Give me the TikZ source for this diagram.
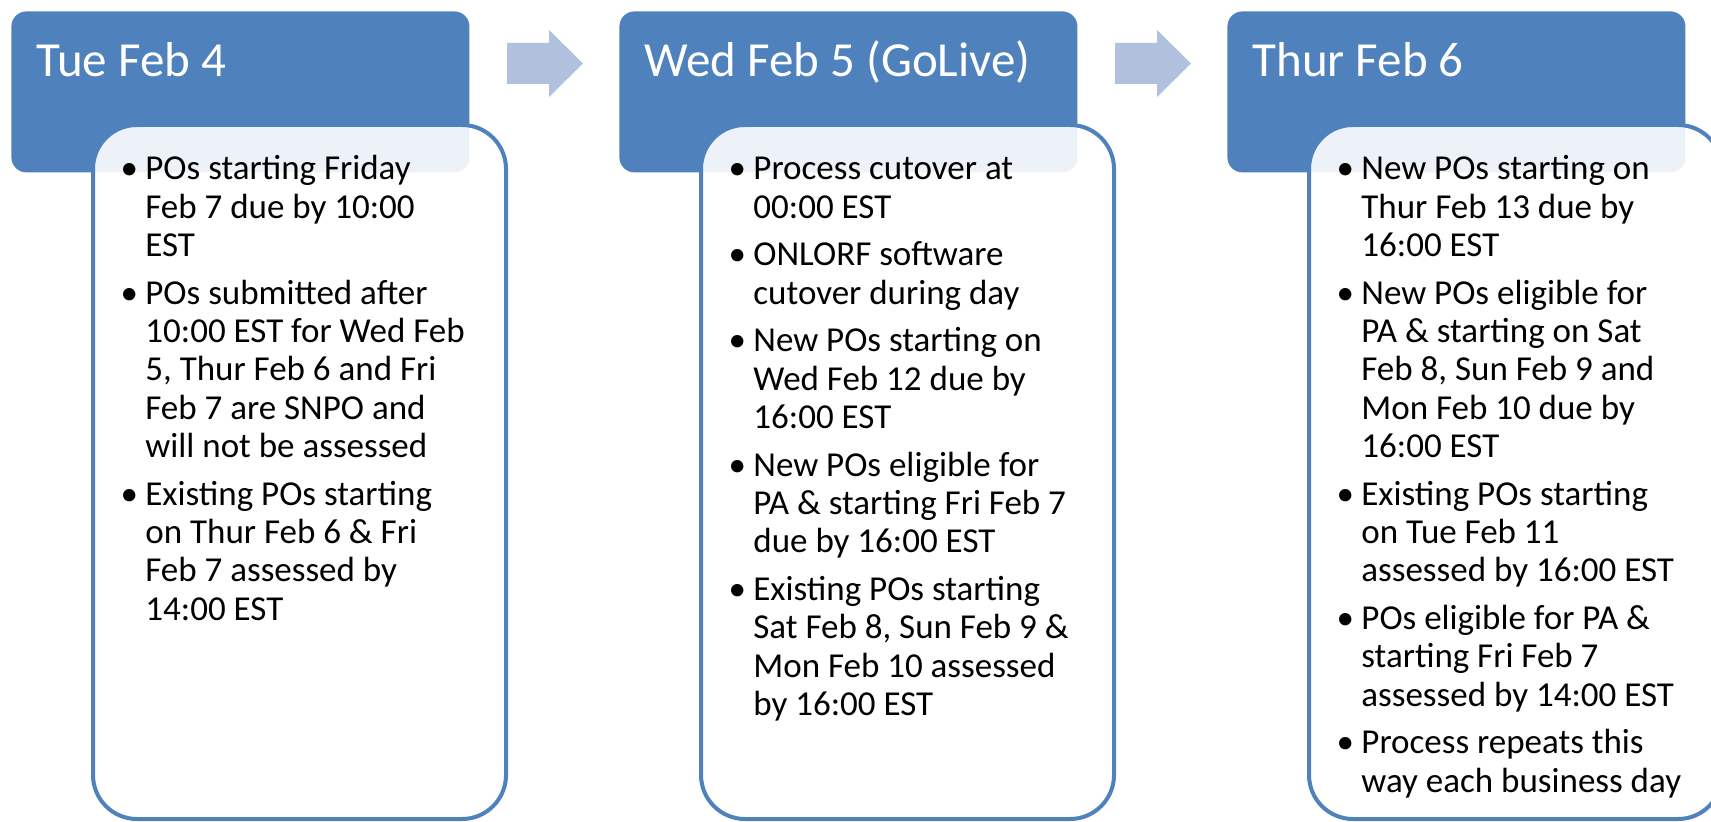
\documentclass[tikz,border=0pt]{standalone}
\usepackage{fontspec}
\setmainfont{Carlito}
\definecolor{hdr}{HTML}{4F81BD}
\definecolor{arr}{HTML}{B0C1DD}
\newcommand{\bul}{\makebox[8pt][l]{\makebox[0pt]{\textbullet}}}
\begin{document}
\begin{tikzpicture}[x=0.5pt,y=-0.5pt,
  hdrbox/.style={fill=hdr, rounded corners=7.5pt, minimum width=229pt, minimum height=80.5pt, anchor=north west, inner sep=0},
  cbox/.style={draw=hdr, line width=2pt, fill=white, fill opacity=0.9, rounded corners=22pt, minimum width=206.5pt, minimum height=347pt, anchor=north west, inner sep=0},
  ttl/.style={anchor=base west, inner sep=0, text=white, font=\fontsize{24.5pt}{29pt}\selectfont},
  body/.style={anchor=base west, inner sep=0, font=\fontsize{17.5pt}{19.15pt}\selectfont},
  blockarrow/.style={fill=arr}]
\useasboundingbox (0,0) rectangle (1711,822);
\clip (0,0) rectangle (1711,822);

% headers
\node[hdrbox] (h1) at (11,11) {};
\node[hdrbox] (h2) at (619,11) {};
\node[hdrbox] (h3) at (1227,11) {};

% block arrows
\foreach \dx in {0,608}{
  \fill[blockarrow] (507+\dx,43) -- (549+\dx,43) -- (549+\dx,30) -- (583+\dx,63.5) -- (549+\dx,97) -- (549+\dx,84) -- (507+\dx,84) -- cycle;
}

% content boxes
\node[cbox] (c1) at (91,123) {};
\node[cbox] (c2) at (699,123) {};
\node[cbox] (c3) at (1307,123) {};

% titles
\node[ttl] (t1) at (36,77) {Tue Feb 4};
\node[ttl] (t2) at (644,77) {Wed Feb 5 (GoLive)};
\node[ttl] (t3) at (1252,77) {Thur Feb 6};

% bullet texts
\node[body] (b1) at (129,180) {\begin{tabular}[t]{@{}l@{}l@{}}
\bul & POs starting Friday\\
 & Feb 7 due by 10:00\\
 & EST\\[4.7pt]
\bul & POs submitted after\\
 & 10:00 EST for Wed Feb\\
 & 5, Thur Feb 6 and Fri\\
 & Feb 7 are SNPO and\\
 & will not be assessed\\[4.7pt]
\bul & Existing POs starting\\
 & on Thur Feb 6 \& Fri\\
 & Feb 7 assessed by\\
 & 14:00 EST
\end{tabular}};

\node[body] (b2) at (737,180) {\begin{tabular}[t]{@{}l@{}l@{}}
\bul & Process cutover at\\
 & 00:00 EST\\[4.7pt]
\bul & ONLORF software\\
 & cutover during day\\[4.7pt]
\bul & New POs starting on\\
 & Wed Feb 12 due by\\
 & 16:00 EST\\[4.7pt]
\bul & New POs eligible for\\
 & PA \& starting Fri Feb 7\\
 & due by 16:00 EST\\[4.7pt]
\bul & Existing POs starting\\
 & Sat Feb 8, Sun Feb 9 \&\\
 & Mon Feb 10 assessed\\
 & by 16:00 EST
\end{tabular}};

\node[body] (b3) at (1345,180) {\begin{tabular}[t]{@{}l@{}l@{}}
\bul & New POs starting on\\
 & Thur Feb 13 due by\\
 & 16:00 EST\\[4.7pt]
\bul & New POs eligible for\\
 & PA \& starting on Sat\\
 & Feb 8, Sun Feb 9 and\\
 & Mon Feb 10 due by\\
 & 16:00 EST\\[4.7pt]
\bul & Existing POs starting\\
 & on Tue Feb 11\\
 & assessed by 16:00 EST\\[4.7pt]
\bul & POs eligible for PA \&\\
 & starting Fri Feb 7\\
 & assessed by 14:00 EST\\[4.7pt]
\bul & Process repeats this\\
 & way each business day
\end{tabular}};
\end{tikzpicture}
\end{document}
